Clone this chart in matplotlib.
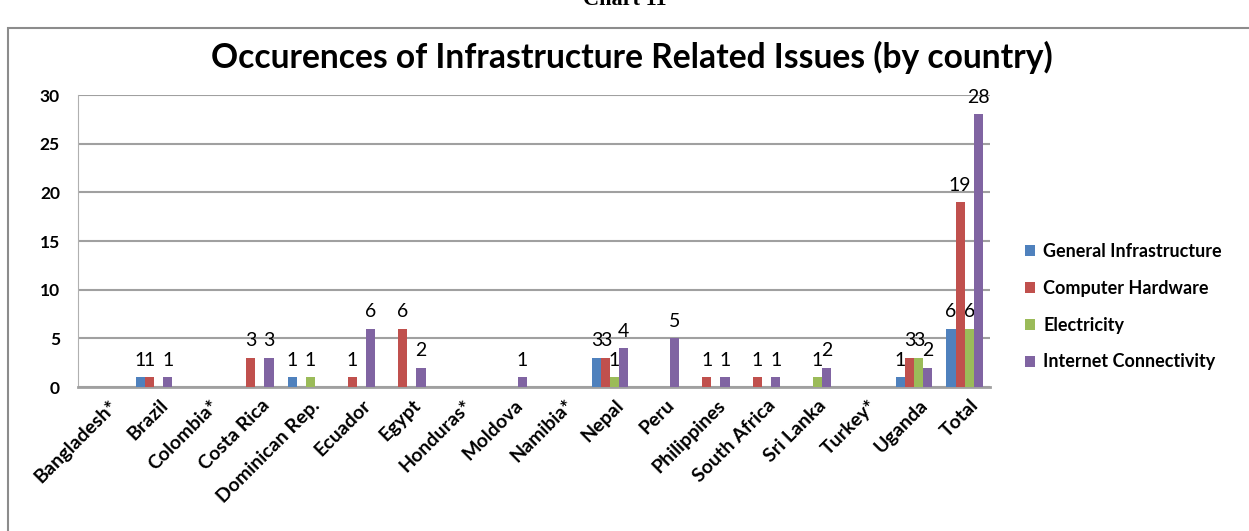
import numpy as np
import matplotlib
matplotlib.use("Agg")
import matplotlib.pyplot as plt
import matplotlib.transforms as mtransforms
from matplotlib.patches import Rectangle

countries = ["Bangladesh*", "Brazil", "Colombia*", "Costa Rica", "Dominican Rep.",
             "Ecuador", "Egypt", "Honduras*", "Moldova", "Namibia*", "Nepal", "Peru",
             "Philippines", "South Africa", "Sri Lanka", "Turkey*", "Uganda", "Total"]

general = [0, 1, 0, 0, 1, 0, 0, 0, 0, 0, 3, 0, 0, 0, 0, 0, 1, 6]
hardware = [0, 1, 0, 3, 0, 1, 6, 0, 0, 0, 3, 0, 1, 1, 0, 0, 3, 19]
electricity = [0, 0, 0, 0, 1, 0, 0, 0, 0, 0, 1, 0, 0, 0, 1, 0, 3, 6]
internet = [0, 1, 0, 3, 0, 6, 2, 0, 1, 0, 4, 5, 1, 1, 2, 0, 2, 28]

series_names = ["General Infrastructure", "Computer Hardware", "Electricity",
                "Internet Connectivity"]
colors = ["#4F81BD", "#C0504D", "#9BBB59", "#8064A2"]

plt.rcParams["font.family"] = ["Lato", "DejaVu Sans"]

fig = plt.figure(figsize=(12.49, 5.31), dpi=100)

# chart frame and the caption above it
fig.patches.append(Rectangle((8 / 1249, -0.1), 1.2, (531 - 28) / 531 + 0.1,
                             transform=fig.transFigure, fill=False,
                             edgecolor="#8c8c8c", linewidth=1.5))
fig.text(0.5, 1.0, "Chart 11", ha="center", va="center", fontsize=16,
         fontweight="bold", fontfamily="Liberation Serif")

ax = fig.add_axes([78 / 1249, 1 - 387 / 531, (990 - 78) / 1249, (387 - 95) / 531])

x = np.arange(len(countries))
w = 0.18
data = [general, hardware, electricity, internet]
for i, (vals, name, c) in enumerate(zip(data, series_names, colors)):
    pos = x + (i - 1.5) * w
    ax.bar(pos, vals, width=w, color=c, label=name, zorder=3)
    for p, v in zip(pos, vals):
        if v:
            ax.annotate(str(v), (p, v), xytext=(0, 6), textcoords="offset points",
                        ha="center", va="bottom", fontsize=14)

ax.set_xlim(-0.5, len(countries) - 0.5)
ax.set_ylim(0, 30)
ax.set_yticks(range(0, 31, 5))
ax.yaxis.grid(True, color="#a0a0a0", linewidth=1.5, zorder=0)
ax.tick_params(axis="y", length=0, pad=13, labelsize=12.5)
for t in ax.get_yticklabels():
    t.set_fontweight("bold")
ax.set_xticks(x)
ax.set_xticklabels(countries, rotation=45, ha="right", rotation_mode="anchor",
                   fontsize=14, fontweight="bold")
ax.tick_params(axis="x", length=0, pad=9)
# nudge the slanted names a little right and up
shift = mtransforms.ScaledTranslation(5 / 100, 3 / 100, fig.dpi_scale_trans)
for t in ax.get_xticklabels():
    t.set_transform(t.get_transform() + shift)

for s in ["top", "right"]:
    ax.spines[s].set_visible(False)
ax.spines["left"].set_color("#b0b0b0")
ax.spines["bottom"].set_color("#a0a0a0")
ax.spines["bottom"].set_linewidth(2)

fig.text(632 / 1249, 1 - 57 / 531, "Occurences of Infrastructure Related Issues (by country)",
         ha="center", va="center", fontsize=24.2, fontweight="bold")

ax.legend(loc="center left", bbox_to_anchor=(1.021, 0.275), frameon=False,
          prop={"size": 13, "weight": "bold"}, handlelength=0.55, handleheight=0.55,
          handletextpad=0.45, labelspacing=1.1)

fig.savefig("out.png", dpi=100)
